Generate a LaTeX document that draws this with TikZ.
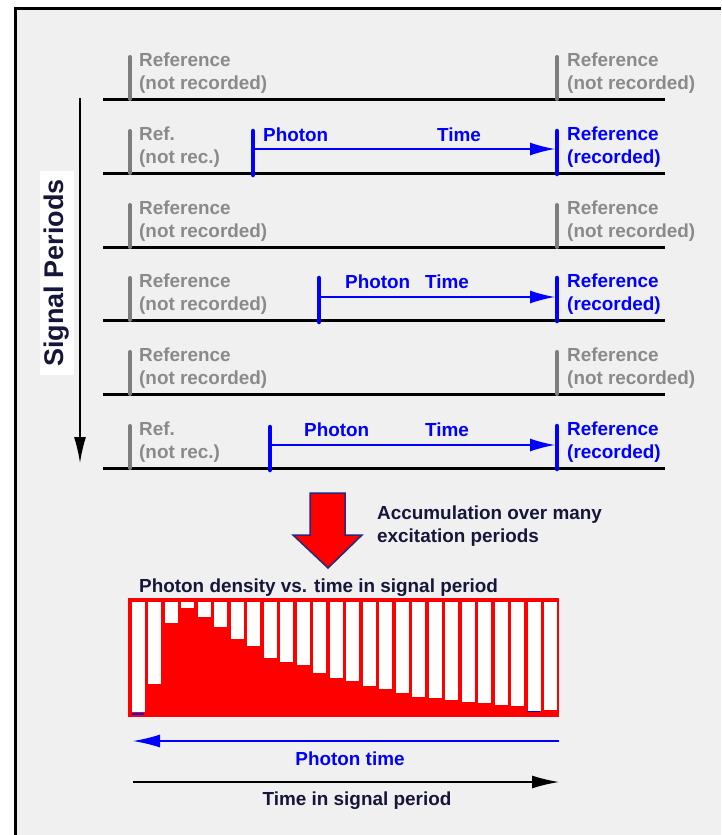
\documentclass[tikz,border=0pt]{standalone}
\usepackage{fontspec}
\setmainfont{Liberation Sans}
\usetikzlibrary{arrows.meta,positioning}
\definecolor{panel}{RGB}{240,240,240}
\definecolor{refgray}{RGB}{138,138,138}
\definecolor{tickgray}{RGB}{125,125,125}
\definecolor{darktext}{RGB}{22,22,58}
\definecolor{photonblue}{RGB}{0,0,255}
\definecolor{arrowrim}{RGB}{40,40,120}
\tikzset{lab/.style={font=\fontsize{18.9}{23}\selectfont\bfseries, inner sep=0pt, align=left},
%grey text for the references that are not recorded
greylab/.style={lab, text=refgray},
bluelab/.style={lab, text=photonblue},
period/.style={line width=3pt},
reftick/.style={line width=4pt, tickgray, line cap=round},
bluetick/.style={line width=4.5pt, photonblue, line cap=round},
timearrow/.style={photonblue, line width=1.5pt, -{Latex[length=25pt,width=13pt]}}}

\begin{document}
\begin{tikzpicture}[x=1pt,y=-1pt]
\useasboundingbox (0,0) rectangle (721,835);
\fill[white] (0,0) rectangle (721,835);
\fill[panel] (15,8) rectangle (721,835);
\draw[line width=3pt] (15,835) -- (15,8) -- (721,8); %frame left and top

% signal periods
\foreach \y in {99,173,247,320,394,468} {
  \draw[period] (103,\y) -- (665,\y);
  \draw[reftick] (130,\y-42) -- (130,\y);
}
\foreach \y in {99,247,394} \draw[reftick] (557,\y-42) -- (557,\y);
\foreach \y in {173,320,468} \draw[bluetick] (557,\y-42) -- (557,\y+1);

\node[greylab, anchor=south west] (refL1) at (139,94) {Reference\\(not recorded)};
\node[greylab, anchor=south west] (refR1) at (567,94) {Reference\\(not recorded)};

% period 2
\node[greylab, anchor=south west] (refL2) at (139,168) {Ref.\\(not rec.)};
\node[bluelab, anchor=south west] (refR2) at (567,168) {Reference\\(recorded)};
\draw[bluetick] (253,131) -- (253,175);
\coordinate (ph2) at (253,149);
\coordinate (rec2) at (555,149);
\draw[timearrow] (ph2) -- (rec2);
\node[bluelab, anchor=base west] (photon2) at (263,141) {Photon};
\node[bluelab, anchor=base west] (time2) at (437,141) {Time};

% period 3
\node[greylab, anchor=south west] (refL3) at (139,242) {Reference\\(not recorded)};
\node[greylab, anchor=south west] (refR3) at (567,242) {Reference\\(not recorded)};

% period 4
\node[greylab, anchor=south west] (refL4) at (139,315) {Reference\\(not recorded)};
\node[bluelab, anchor=south west] (refR4) at (567,315) {Reference\\(recorded)};
\draw[bluetick] (319,278) -- (319,322);
\coordinate (ph4) at (319,297);
\coordinate (rec4) at (555,297);
\draw[timearrow] (ph4) -- (rec4);
\node[bluelab, anchor=base west] (photon4) at (345,288) {Photon};
\node[bluelab, anchor=base west] (time4) at (425,288) {Time};

% period 5
\node[greylab, anchor=south west] (refL5) at (139,389) {Reference\\(not recorded)};
\node[greylab, anchor=south west] (refR5) at (567,389) {Reference\\(not recorded)};

% period 6
\node[greylab, anchor=south west] (refL6) at (139,463) {Ref.\\(not rec.)};
\node[bluelab, anchor=south west] (refR6) at (567,463) {Reference\\(recorded)};
\draw[bluetick] (270,427) -- (270,470);
\coordinate (ph6) at (270,445);
\coordinate (rec6) at (555,445);
\draw[timearrow] (ph6) -- (rec6);
\node[bluelab, anchor=base west] (photon6) at (304,436) {Photon};
\node[bluelab, anchor=base west] (time6) at (425,436) {Time};

% time axis of the periods
\coordinate (pertop) at (80,98);
\coordinate (perbot) at (80,463);
\draw[line width=1.5pt, -{Latex[length=26pt,width=12pt]}] (pertop) -- (perbot);
\node[fill=white, rotate=90, inner xsep=8pt, inner ysep=4pt, text=darktext,
  font=\fontsize{27}{27}\selectfont\bfseries] (sigper) at (57,273) {Signal Periods};

% accumulation
\fill[red, draw=arrowrim, line width=1.5pt] (310,493) -- (345,493) -- (345,535) -- (362,535)
  -- (328,568) -- (293,535) -- (310,535) -- cycle;
\node[lab, text=darktext, anchor=south west] (accum) at (377,547) {Accumulation over many\\excitation periods};

% histogram
\node[lab, text=darktext, anchor=base west] (histtitle) at (139,592) {Photon density vs. time in signal period};
\fill[red] (128,598) rectangle (559,717);
\foreach \b [count=\k from 0] in {712,684,623,608,617,627,639,646,658,662,665,673,678,
  681,686,689,693,697,698,700,702,703,705,706,711,710}
  \fill[white] (131.5+16.5*\k,602) rectangle ++(13,\b-602);
\draw[photonblue, line width=1.5pt] (132,714) -- (144,714);
\draw[photonblue, line width=1.5pt] (527,711.5) -- (540,711.5);

% time axes
\coordinate (ptR) at (559,741);
\coordinate (ptL) at (133,741);
\draw[photonblue, line width=1.3pt, -{Latex[length=27pt,width=13pt]}] (ptR) -- (ptL);
\node[bluelab, anchor=base] (ptime) at (350,765.5) {Photon time};
\coordinate (spL) at (133,782);
\coordinate (spR) at (559,782);
\draw[line width=1.5pt, -{Latex[length=27pt,width=13pt]}] (spL) -- (spR);
\node[lab, text=darktext, anchor=base] (sptime) at (357,805) {Time in signal period};

\end{tikzpicture}
\end{document}
